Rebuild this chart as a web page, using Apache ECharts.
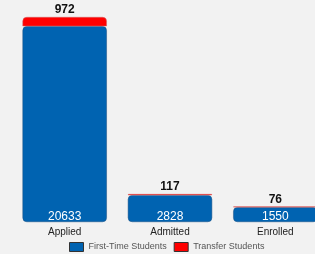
<!DOCTYPE html>
<html>
<head>
<meta charset="utf-8">
<script src="https://cdn.jsdelivr.net/npm/echarts@6/dist/echarts.min.js"></script>
<style>
  html, body { margin: 0; padding: 0; background: #f2f2f2; }
  #chart { width: 315px; height: 254px; }
</style>
</head>
<body>
<div id="chart"></div>
<script>
const categories = ['Applied', 'Admitted', 'Enrolled'];
const firstTime = [20633, 2828, 1550];
const transfer = [972, 117, 76];

const chart = echarts.init(document.getElementById('chart'));
chart.setOption({
  backgroundColor: '#f2f2f2',
  animation: false,
  // 第三根柱子在右侧被裁掉一部分
  grid: { left: 12, width: 316, top: 17, bottom: 32, outerBoundsMode: 'none' },
  legend: {
    left: 64,
    bottom: -3,
    icon: 'rect',
    itemWidth: 14,
    itemHeight: 9,
    itemGap: 7,
    textStyle: { fontSize: 9, color: '#555', fontFamily: 'Liberation Sans' },
    data: [
      { name: 'First-Time Students', itemStyle: { borderColor: '#333', borderWidth: 1 } },
      { name: 'Transfer Students', itemStyle: { borderColor: '#333', borderWidth: 1 } }
    ]
  },
  xAxis: {
    type: 'category',
    data: categories,
    axisLine: { show: false },
    axisTick: { show: false },
    axisLabel: { color: '#222', fontSize: 10, margin: 5, fontFamily: 'Liberation Sans' }
  },
  yAxis: {
    type: 'value',
    min: 0,
    max: 21605,
    show: false,
    splitLine: { show: false }
  },
  series: [
    {
      name: 'First-Time Students',
      type: 'bar',
      stack: 'total',
      barCategoryGap: '20%',
      data: firstTime,
      itemStyle: { color: '#0063b1', borderColor: '#1a4f80', borderWidth: 0.5, borderRadius: 4 },
      label: {
        show: true,
        position: 'insideBottom',
        distance: -1,
        color: '#fff',
        fontSize: 12,
        fontFamily: 'Liberation Sans'
      }
    },
    {
      name: 'Transfer Students',
      type: 'bar',
      stack: 'total',
      data: transfer,
      itemStyle: { color: '#ff0000', borderColor: '#d06060', borderWidth: 0.5, borderRadius: [4, 4, 0, 0] },
      label: {
        show: true,
        position: 'top',
        distance: 1,
        color: '#111',
        fontSize: 12,
        fontWeight: 'bold',
        fontFamily: 'Liberation Sans'
      }
    }
  ]
});
</script>
</body>
</html>
